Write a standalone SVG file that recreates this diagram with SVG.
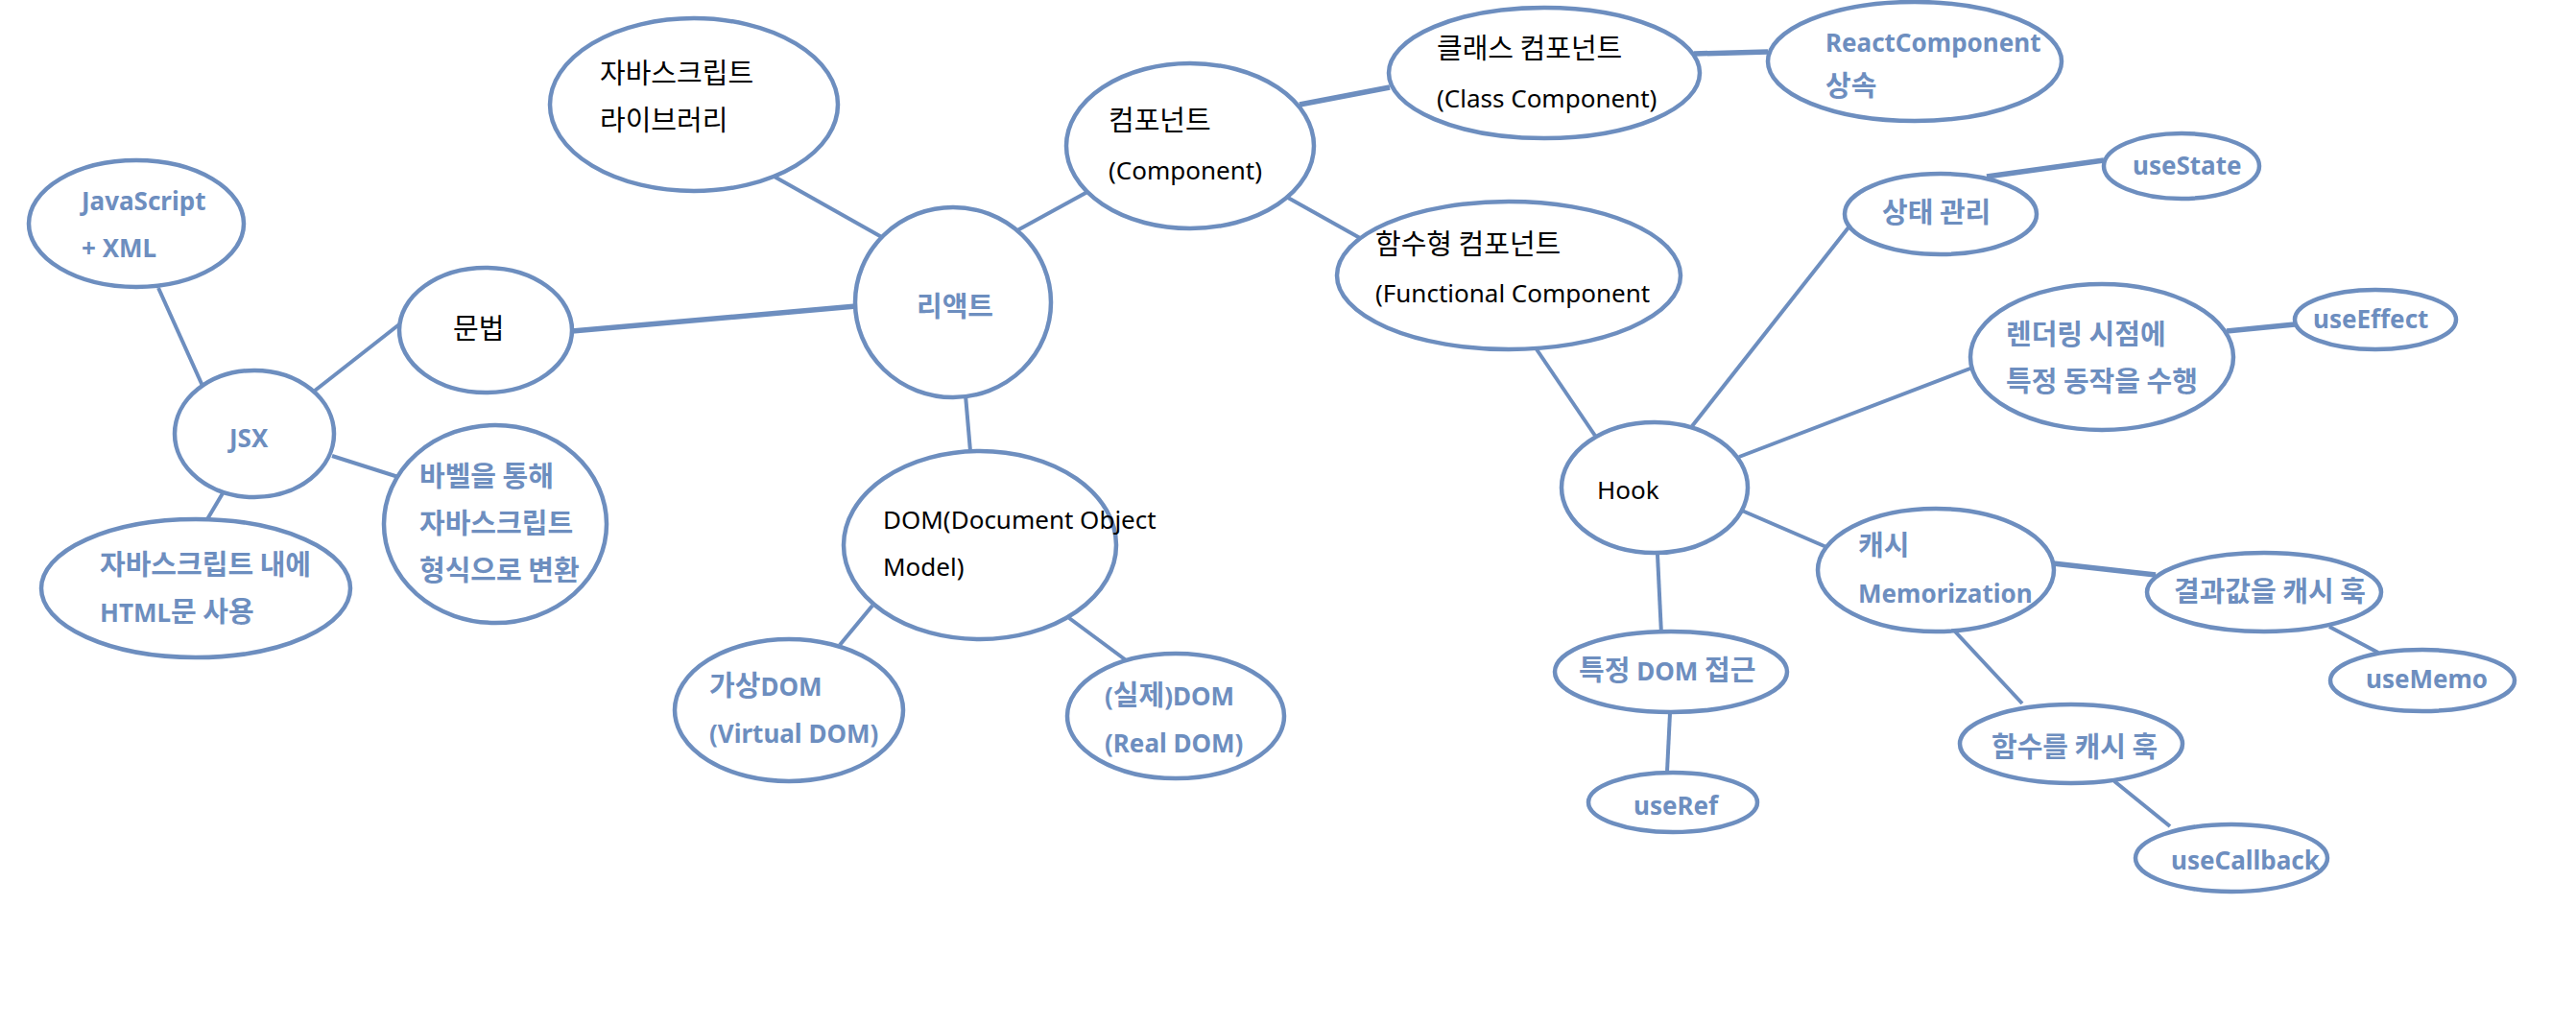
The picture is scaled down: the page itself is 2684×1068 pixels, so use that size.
<svg xmlns="http://www.w3.org/2000/svg" width="2684" height="1068" viewBox="0 0 2684 1068">
<style>
.n{fill:#ffffff;stroke:#6d8ebf;stroke-width:4.5}
.c line{stroke:#6d8ebf;stroke-width:4}
.c line.t{stroke-width:5.5}
text{font-family:"Noto Sans","Noto Sans CJK KR",sans-serif;font-size:26px}
.h{font-family:"Noto Sans CJK KR",sans-serif;font-size:29px}
.b{fill:#6d8ebf;font-weight:bold}
.k{fill:#000000}
</style>
<rect width="2684" height="1068" fill="#ffffff"/>
<g id="connectors" class="c">
<line x1="805" y1="183" x2="924" y2="250"/>
<line class="t" x1="596" y1="345" x2="892" y2="319"/>
<line x1="1060" y1="240" x2="1133" y2="200"/>
<line x1="1006" y1="412" x2="1011" y2="470"/>
<line x1="165" y1="300" x2="211" y2="402"/>
<line x1="328" y1="407" x2="416" y2="338"/>
<line x1="346" y1="475" x2="415" y2="497"/>
<line x1="232" y1="514" x2="216" y2="541"/>
<line x1="909" y1="631" x2="875" y2="672"/>
<line x1="1114" y1="644" x2="1176" y2="690"/>
<line class="t" x1="1354" y1="109" x2="1448" y2="91"/>
<line x1="1342" y1="206" x2="1417" y2="248"/>
<line class="t" x1="1765" y1="56" x2="1842" y2="54"/>
<line x1="1601" y1="364" x2="1662" y2="454"/>
<line x1="1763" y1="444" x2="1926" y2="237"/>
<line x1="1812" y1="476" x2="2058" y2="382"/>
<line x1="1815" y1="532" x2="1903" y2="570"/>
<line x1="1727" y1="578" x2="1731" y2="661"/>
<line x1="1740" y1="743" x2="1737" y2="804"/>
<line class="t" x1="2070" y1="184" x2="2192" y2="167"/>
<line class="t" x1="2320" y1="345" x2="2391" y2="338"/>
<line class="t" x1="2139" y1="587" x2="2246" y2="599"/>
<line x1="2427" y1="653" x2="2478" y2="680"/>
<line x1="2037" y1="658" x2="2107" y2="733"/>
<line x1="2203" y1="814" x2="2261" y2="861"/>
</g>
<g id="lib"><ellipse class="n" cx="723" cy="109" rx="150" ry="90"/><text class="k h" x="625" y="87">자바스크립트</text><text class="k h" x="625" y="136">라이브러리</text></g>
<g id="react"><ellipse class="n" cx="993" cy="315" rx="102" ry="99"/><text class="b h" x="955" y="330">리액트</text></g>
<g id="grammar"><ellipse class="n" cx="506" cy="344" rx="90" ry="65"/><text class="k h" x="472" y="353">문법</text></g>
<g id="jsx"><ellipse class="n" cx="265" cy="452" rx="83" ry="66"/><text class="b" x="239" y="466">JSX</text></g>
<g id="jsxml"><ellipse class="n" cx="142" cy="233" rx="112" ry="66"/><text class="b" x="85" y="219">JavaScript</text><text class="b" x="85" y="268">+ XML</text></g>
<g id="babel"><ellipse class="n" cx="516" cy="546" rx="116" ry="103"/><text class="b h" x="437" y="507">바벨을 통해</text><text class="b h" x="437" y="556">자바스크립트</text><text class="b h" x="437" y="605">형식으로 변환</text></g>
<g id="htmlin"><ellipse class="n" cx="204" cy="613" rx="161" ry="72"/><text class="b h" x="104" y="599">자바스크립트 내에</text><text class="b" x="104" y="648">HTML<tspan class="h">문 사용</tspan></text></g>
<g id="dom"><ellipse class="n" cx="1021" cy="568" rx="142" ry="98"/><text class="k" x="920" y="551">DOM(Document Object</text><text class="k" x="920" y="600">Model)</text></g>
<g id="vdom"><ellipse class="n" cx="822" cy="740" rx="119" ry="74"/><text class="b" x="739" y="725"><tspan class="h">가상</tspan>DOM</text><text class="b" x="739" y="774">(Virtual DOM)</text></g>
<g id="rdom"><ellipse class="n" cx="1225" cy="746" rx="113" ry="65"/><text class="b" x="1151" y="735">(<tspan class="h">실제</tspan>)DOM</text><text class="b" x="1151" y="784">(Real DOM)</text></g>
<g id="comp"><ellipse class="n" cx="1240" cy="152" rx="129" ry="86"/><text class="k h" x="1155" y="136">컴포넌트</text><text class="k" x="1155" y="187">(Component)</text></g>
<g id="class"><ellipse class="n" cx="1609" cy="76" rx="162" ry="68"/><text class="k h" x="1497" y="61">클래스 컴포넌트</text><text class="k" x="1497" y="112">(Class Component)</text></g>
<g id="rcomp"><ellipse class="n" cx="1995" cy="64" rx="153" ry="62"/><text class="b" x="1902" y="54">ReactComponent</text><text class="b h" x="1902" y="100">상속</text></g>
<g id="func"><ellipse class="n" cx="1572" cy="287" rx="179" ry="77"/><text class="k h" x="1433" y="265">함수형 컴포넌트</text><text class="k" x="1433" y="315">(Functional Component</text></g>
<g id="hook"><ellipse class="n" cx="1724" cy="508" rx="97" ry="68"/><text class="k" x="1664" y="520">Hook</text></g>
<g id="state"><ellipse class="n" cx="2022" cy="223" rx="100" ry="42"/><text class="b h" x="1961" y="232">상태 관리</text></g>
<g id="usestate"><ellipse class="n" cx="2273" cy="173" rx="81" ry="34"/><text class="b" x="2222" y="182">useState</text></g>
<g id="render"><ellipse class="n" cx="2190" cy="372" rx="137" ry="76"/><text class="b h" x="2090" y="359">렌더링 시점에</text><text class="b h" x="2090" y="408">특정 동작을 수행</text></g>
<g id="useeffect"><ellipse class="n" cx="2475" cy="333" rx="84" ry="31"/><text class="b" x="2410" y="342">useEffect</text></g>
<g id="cache"><ellipse class="n" cx="2017" cy="594" rx="123" ry="64"/><text class="b h" x="1936" y="579">캐시</text><text class="b" x="1936" y="628">Memorization</text></g>
<g id="result"><ellipse class="n" cx="2359" cy="617" rx="122" ry="41"/><text class="b h" x="2265" y="627">결과값을 캐시 훅</text></g>
<g id="usememo"><ellipse class="n" cx="2524" cy="709" rx="96" ry="32"/><text class="b" x="2465" y="717">useMemo</text></g>
<g id="funccache"><ellipse class="n" cx="2158" cy="775" rx="116" ry="41"/><text class="b h" x="2075" y="789">함수를 캐시 훅</text></g>
<g id="usecallback"><ellipse class="n" cx="2325" cy="894" rx="100" ry="35"/><text class="b" x="2262" y="906">useCallback</text></g>
<g id="domaccess"><ellipse class="n" cx="1741" cy="700" rx="121" ry="42"/><text class="b" x="1645" y="709"><tspan class="h">특정</tspan> DOM <tspan class="h">접근</tspan></text></g>
<g id="useref"><ellipse class="n" cx="1743" cy="836" rx="88" ry="31"/><text class="b" x="1702" y="849">useRef</text></g>
</svg>
